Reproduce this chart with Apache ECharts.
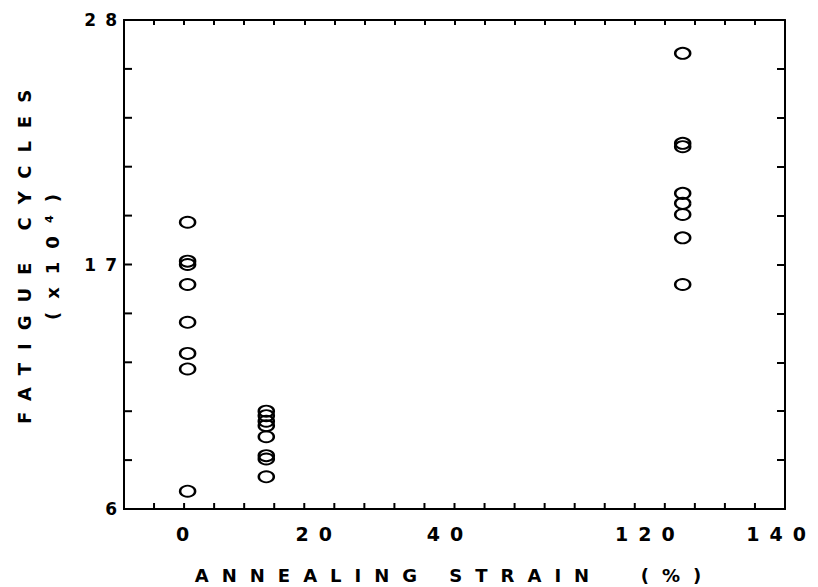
<!DOCTYPE html>
<html>
<head>
<meta charset="utf-8">
<script src="https://cdn.jsdelivr.net/npm/echarts@6/dist/echarts.min.js"></script>
<style>
html, body { margin: 0; padding: 0; background: #fff; }
#chart { width: 818px; height: 587px; }
#chart text[style*="19px"] { letter-spacing: 10px; }
#chart text[style*="17px"] { letter-spacing: 9px; }
#chart text[style*="18px"] { letter-spacing: 13px; }
</style>
</head>
<body>
<div id="chart"></div>
<script>
// ---- data ----
const strainLevels = [0, 12, 125];               // annealing strain (%)
const cyclesAt0 = [18.9, 17.15, 17.0, 16.1, 14.4, 13.0, 12.3, 6.8];
const cyclesAt12 = [10.4, 10.2, 9.95, 9.75, 9.25, 8.4, 8.25, 7.45];
const cyclesAt125 = [26.5, 22.45, 22.3, 20.2, 19.75, 19.25, 18.2, 16.1];
const xTickLabels = [0, 20, 40, 120, 140];
const yTickLabels = [6, 17, 28];
const xLabel = 'ANNEALING STRAIN  (%)';
const yLabel = 'FATIGUE CYCLES\n(x10\u2074)';
const xDivisions = 22;   // frame tick divisions along x
const yDivisions = 10;   // frame tick divisions along y

const groups = [cyclesAt0, cyclesAt12, cyclesAt125];
const points = [];
groups.forEach((arr, i) => arr.forEach(v => points.push([strainLevels[i], v])));

const black = '#000';
const font = 'DejaVu Sans';
const line = () => ({ color: black, width: 2 });
const G = { left: 124, right: 33, top: 20, bottom: 78 };
const rect = () => ({ left: G.left, right: G.right, top: G.top, bottom: G.bottom, containLabel: false, outerBoundsMode: 'none' });

function frameAxis(position, max, len, showTick) {
  return {
    gridIndex: 1, type: 'value', position: position, z: 20,
    min: 0, max: max, interval: 1,
    axisLine: { show: true, onZero: false, lineStyle: line() },
    axisTick: { show: showTick, inside: true, length: len, lineStyle: line() },
    axisLabel: { show: false },
    splitLine: { show: false }
  };
}

const chart = echarts.init(document.getElementById('chart'), null, { renderer: 'svg' });
chart.setOption({
  animation: false,
  backgroundColor: '#fff',
  grid: [rect(), rect()],
  xAxis: [
    {
      gridIndex: 0, type: 'value', position: 'bottom', min: -9.7, max: 140.6,
      breaks: [{ start: 45, end: 115, gap: 20.5 }],
      breakArea: { show: false },
      axisLine: { show: true, onZero: false, lineStyle: line() },
      axisTick: { show: false },
      splitLine: { show: false },
      axisLabel: { customValues: xTickLabels, color: black, fontSize: 19, fontWeight: 'bold', fontFamily: font, margin: 15 },
      name: xLabel, nameLocation: 'middle', nameGap: 57,
      nameTextStyle: { color: black, fontSize: 18, fontWeight: 'bold', fontFamily: font }
    },
    frameAxis('bottom', xDivisions, 6, false),
    frameAxis('top', xDivisions, 5, true)
  ],
  yAxis: [
    {
      gridIndex: 0, type: 'value', position: 'left', min: 6, max: 28,
      axisLine: { show: true, onZero: false, lineStyle: line() },
      axisTick: { show: false },
      splitLine: { show: false },
      axisLabel: { customValues: yTickLabels, color: black, fontSize: 17, fontWeight: 'bold', fontFamily: font, margin: -2 },
      name: yLabel, nameLocation: 'middle', nameRotate: 90, nameGap: 58,
      nameTextStyle: { color: black, fontSize: 18, fontWeight: 'bold', fontFamily: font, lineHeight: 28, padding: [0, 0, 0, 28] }
    },
    frameAxis('left', yDivisions, 8, false),
    frameAxis('right', yDivisions, 8, true)
  ],
  series: [{
    type: 'scatter', xAxisIndex: 0, yAxisIndex: 0,
    data: points,
    symbol: 'circle', symbolSize: [15, 11],
    itemStyle: { color: 'rgba(0,0,0,0)', borderColor: black, borderWidth: 2.2, opacity: 1 },
    emphasis: { disabled: true }
  }]
});

// bottom and left edge tick marks (thin filled bars on a top layer)
const W = chart.getWidth(), H = chart.getHeight();
const plotL = G.left, plotR = W - G.right, plotT = G.top, plotB = H - G.bottom;
function px(finder, v, lo, hi, n) {
  const p = chart.convertToPixel(finder, v);
  return (typeof p === 'number' && isFinite(p)) ? p : lo + (hi - lo) * v / n;
}
const tickEls = [];
for (let i = 1; i < xDivisions; i++) {
  const x = px({ xAxisIndex: 1 }, i, plotL, plotR, xDivisions);
  tickEls.push({ type: 'rect', silent: true, z: 1000, zlevel: 5,
    shape: { x: x - 1, y: plotB - 6, width: 2, height: 6 },
    style: { fill: black } });
}
for (let j = 1; j < yDivisions; j++) {
  const y = px({ yAxisIndex: 1 }, j, plotB, plotT, yDivisions);
  tickEls.push({ type: 'rect', silent: true, z: 1000, zlevel: 5,
    shape: { x: plotL, y: y - 1, width: 8, height: 2 },
    style: { fill: black } });
}
chart.setOption({ graphic: [{ elements: tickEls }] });
</script>
</body>
</html>
